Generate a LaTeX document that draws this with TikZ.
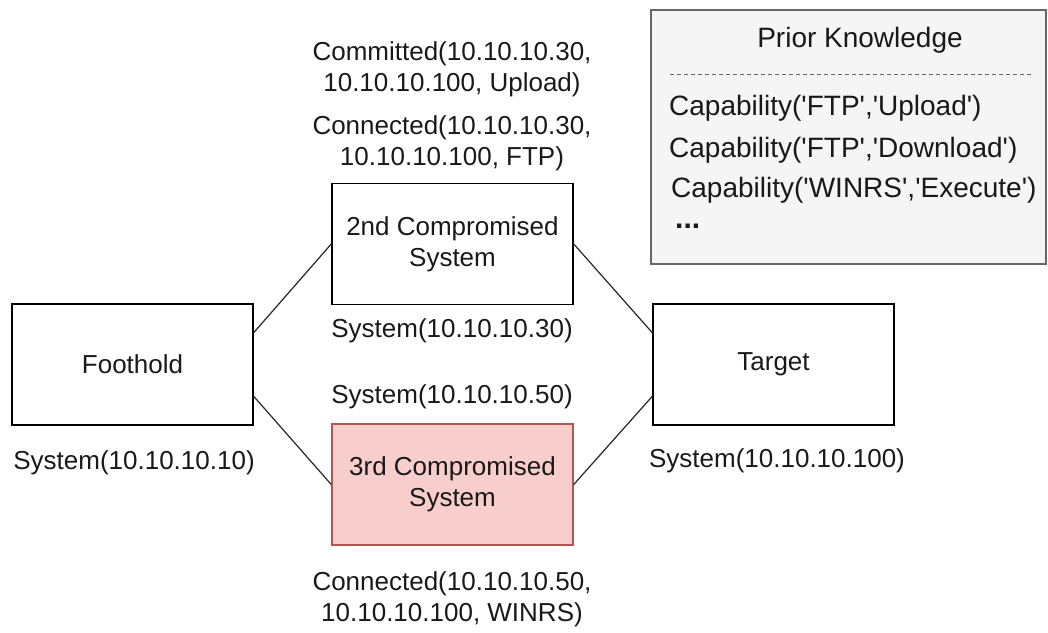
\documentclass[tikz,border=0pt]{standalone}
\usepackage{fontspec}
\setmainfont{Liberation Sans}
\usetikzlibrary{calc}
\newcommand{\q}{\textquotesingle}
\begin{document}
\begin{tikzpicture}[x=1pt,y=-1pt,
  every node/.style={font=\fontsize{26}{31}\selectfont, text=black!90, inner sep=0pt},
  pktext/.style={font=\fontsize{28}{32}\selectfont},
  sysbox/.style={draw=black, line width=1.5pt, minimum width=241pt, minimum height=121pt, align=center, fill=white},
  lbl/.style={align=center},
  link/.style={line width=1.2pt, draw=black!85}
]
\useasboundingbox (0,0) rectangle (1048,632);
\definecolor{pkfill}{HTML}{F5F5F5}
\definecolor{pkline}{HTML}{666666}
\definecolor{redfill}{HTML}{F8CECC}
\definecolor{redline}{HTML}{B85450}
% Prior knowledge box
\node[draw=pkline, fill=pkfill, line width=1.5pt, minimum width=395pt, minimum height=254pt, anchor=north west] (pk) at (650,9) {};
\node[pktext] (pkt) at (860,40) {Prior Knowledge};
\coordinate (dl) at (670,74);
\coordinate (dr) at (1033,74);
\draw[pkline, dashed, dash pattern=on 4pt off 3pt, line width=1pt] (dl) -- (dr);
\node[pktext, anchor=west] (c1) at (669,108) {Capability(\q FTP\q,\q Upload\q)};
\node[pktext, anchor=west] (c2) at (669,150) {Capability(\q FTP\q,\q Download\q)};
\node[pktext, anchor=west] (c3) at (671,190) {Capability(\q WINRS\q,\q Execute\q)};
\node[anchor=west, font=\fontsize{30}{31}\selectfont\bfseries] (c4) at (675,226) {...};
% systems
\node[sysbox] (foot) at (132.5,364.5) {Foothold};
\node[sysbox] (second) at (452.5,244) {2nd Compromised\\System};
\node[sysbox, draw=redline, fill=redfill] (third) at (452.5,484.5) {3rd Compromised\\System};
\node[sysbox] (target) at (773.5,364.5) {Target};
% labels
\node[lbl] (l1) at (134,463) {System(10.10.10.10)};
\node[lbl] (l2) at (452,69) {Committed(10.10.10.30,\\10.10.10.100, Upload)};
\node[lbl] (l3) at (452,143) {Connected(10.10.10.30,\\10.10.10.100, FTP)};
\node[lbl] (l4) at (452,331) {System(10.10.10.30)};
\node[lbl] (l5) at (452,397) {System(10.10.10.50)};
\node[lbl] (l6) at (452,599) {Connected(10.10.10.50,\\10.10.10.100, WINRS)};
\node[lbl] (l7) at (777,461) {System(10.10.10.100)};
% links
\draw[link] ($(foot.north east)!0.24!(foot.south east)$) -- (second.west);
\draw[link] ($(foot.north east)!0.76!(foot.south east)$) -- (third.west);
\draw[link] (second.east) -- ($(target.north west)!0.24!(target.south west)$);
\draw[link] (third.east) -- ($(target.north west)!0.76!(target.south west)$);
\end{tikzpicture}
\end{document}
